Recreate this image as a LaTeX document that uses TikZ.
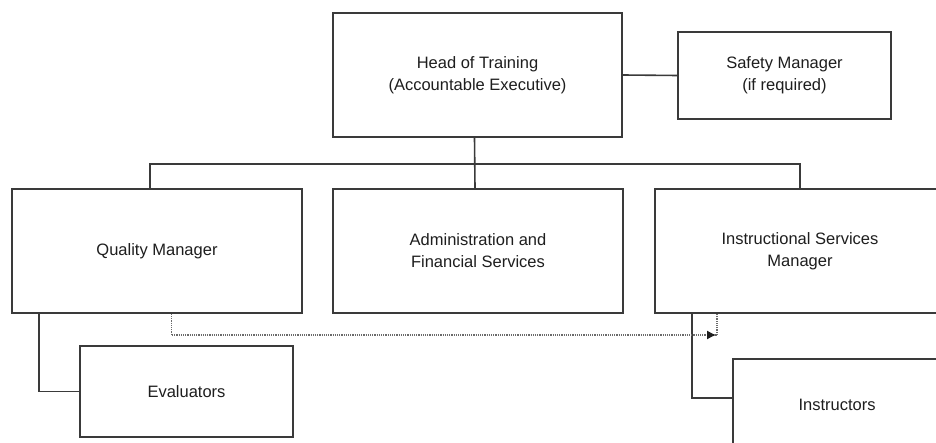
\documentclass[tikz,border=0pt]{standalone}
\usepackage{fontspec}
\setmainfont{Liberation Sans}
\usepackage{tikz}
\usetikzlibrary{arrows.meta,calc}
\usepackage{xcolor}
\definecolor{ChartLine}{HTML}{3a3a3a}
\definecolor{ChartText}{HTML}{1e1e1e}

\tikzset{
  unitbox/.style={draw=ChartLine,line width=1.6pt,fill=white,inner sep=0pt,
    align=center,text=ChartText,font=\fontsize{16.5}{22}\selectfont},
  link/.style={draw=ChartLine,line width=1.6pt},
  dotlink/.style={draw=ChartLine!75,line width=1.2pt,densely dotted}
}

\begin{document}
\begin{tikzpicture}[x=1pt,y=-1pt]
   \useasboundingbox (0,0) rectangle (936,443);
   \clip (0,0) rectangle (936,443);

   \node[unitbox,minimum width=289pt,minimum height=124pt] (head) at (477.5,75)
     {Head of Training\\(Accountable Executive)};
   \node[unitbox,minimum width=213pt,minimum height=87pt] (safety) at (784.5,75.5)
     {Safety Manager\\(if required)};

   \foreach \name/\cx/\txt in {qm/157/Quality Manager,
                               admin/478/Administration and\\Financial Services,
                               ism/800/Instructional Services\\Manager} {
    \node[unitbox,minimum width=290pt,minimum height=124pt] (\name) at (\cx,251) {\txt};
   }

   \node[unitbox,minimum width=213pt,minimum height=91pt] (eval) at (186.5,391.5) {Evaluators};
   \node[unitbox,minimum width=208pt,minimum height=92pt] (instr) at (837,405) {Instructors};

   % reporting lines
   \coordinate (bus) at (477.5,164);
   \draw[link] (head.east) -- (safety.west);
   \draw[link] ([xshift=-3pt]head.south) -- ([xshift=-3pt]admin.north);
   \draw[link] ([xshift=-7pt]qm.north) |- (bus) -| (ism.north);
   \draw[link] ([xshift=28pt]qm.south west) |- (eval.west);
   \draw[link] ([xshift=38pt]ism.south west) |- ([yshift=7pt]instr.west);

   % dotted liaison
   \coordinate (turn) at (717,335);
   \draw[dotlink] ([xshift=160pt]qm.south west) |- (turn);
   \draw[dotlink] (turn) -- (turn |- ism.south);
   \draw[-{Latex[length=9pt,width=9pt]},ChartText,line width=1pt] ([xshift=-10pt]turn) -- ([xshift=-1pt]turn);
\end{tikzpicture}
\end{document}
